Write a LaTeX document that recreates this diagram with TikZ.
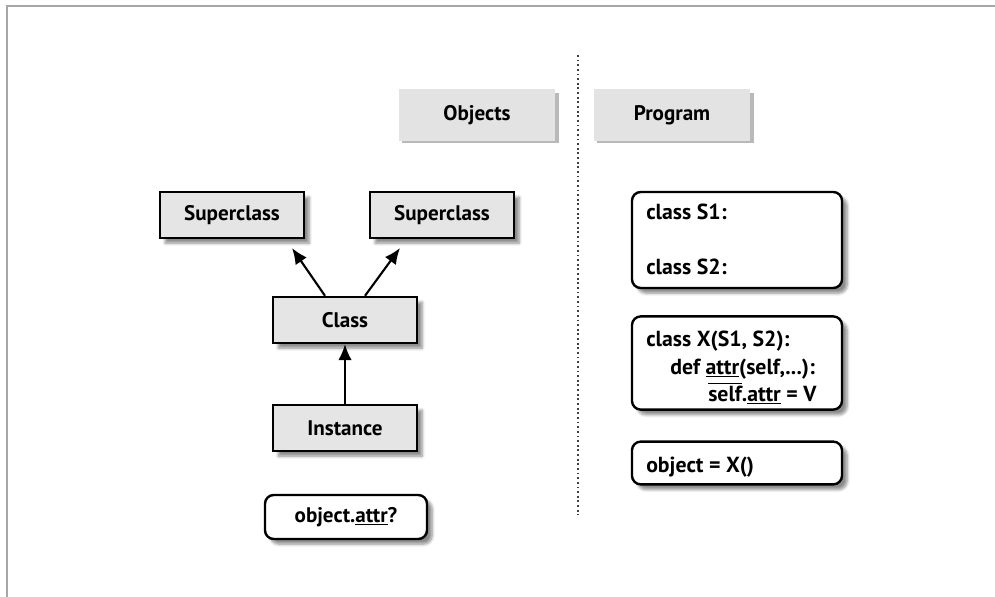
\documentclass[tikz,border=0pt]{standalone}
\usepackage{fontspec}
\setmainfont{PT Sans}
\usetikzlibrary{arrows.meta,shadows.blur}

\tikzset{
  objbox/.style={draw, line width=1.7pt, fill=gray!20, minimum width=3.6cm, minimum height=1.15cm,
    blur shadow={shadow xshift=0.13cm, shadow yshift=-0.13cm, shadow blur steps=6, shadow opacity=45}},
  codebox/.style={draw, line width=1.7pt, fill=white, rounded corners=0.22cm, minimum width=5.25cm,
    blur shadow={shadow xshift=0.13cm, shadow yshift=-0.13cm, shadow blur steps=6, shadow opacity=45}},
  headbox/.style={fill=gray!22, minimum width=3.9cm, minimum height=1.3cm},
  codetext/.style={anchor=base west, inner sep=0pt, font=\bfseries\fontsize{15.5}{18}\selectfont},
  link/.style={line width=1.5pt, -{Latex[length=0.4cm, width=0.34cm]}}
}

\begin{document}
\begin{tikzpicture}[x=0.025cm, y=-0.025cm, font=\bfseries\fontsize{15}{18}\selectfont]
  \useasboundingbox (0,0) rectangle (995,597);

  %cantos da moldura
  \coordinate (F1) at (7,6);
  \coordinate (F2) at (995,6);
  \coordinate (F3) at (7,597);
  \draw[gray!70, line width=1.5pt] (F2) -- (F1) -- (F3);

  %linha pontilhada
  \coordinate (D1) at (578,55);
  \coordinate (D2) at (578,515);
  \draw[line width=1.3pt, dotted, gray!50!black] (D1) -- (D2);

  %cabecalhos
  \fill[gray!55] (402,93) rectangle (559,143);
  \node[headbox] (objects) at (477,115) {Objects};
  \fill[gray!55] (597,93) rectangle (754,143);
  \node[headbox] (program) at (672,115) {Program};

  %caixas dos objetos
  \node[objbox] (superL) at (232,215) {Superclass};
  \node[objbox] (superR) at (442,215) {Superclass};
  \node[objbox] (class) at (345,320) {Class};
  \node[objbox] (instance) at (345,428) {Instance};
  \node[codebox, minimum width=4.05cm, minimum height=1.1cm] (query) at (346,517)
    {object.\underline{attr}?};

  %setas
  \draw[link] (class.north -| 325,0) -- (292,248);
  \draw[link] (class.north -| 365,0) -- (400,248);
  \draw[link] (instance.north) -- (class.south);

  %caixas do programa
  \node[codebox, minimum height=2.4cm] (supers) at (737,240) {};
  \node[codebox, minimum height=2.33cm] (classX) at (737,363) {};
  \node[codebox, minimum height=1.07cm] (make) at (737,463) {};

  %textos do programa
  \node[codetext] (s1) at (646,220) {class S1:};
  \node[codetext] (s2) at (646,275) {class S2:};
  \node[codetext] (x1) at (646,347) {class X(S1, S2):};
  \node[codetext] (x2) at (670,374) {def \underline{attr}(self,...):};
  \node[codetext] (x3) at (708,401) {$\overline{\mbox{self}}$.\underline{attr} = V};
  \node[codetext] (obj) at (646,472) {object = X()};
\end{tikzpicture}
\end{document}
